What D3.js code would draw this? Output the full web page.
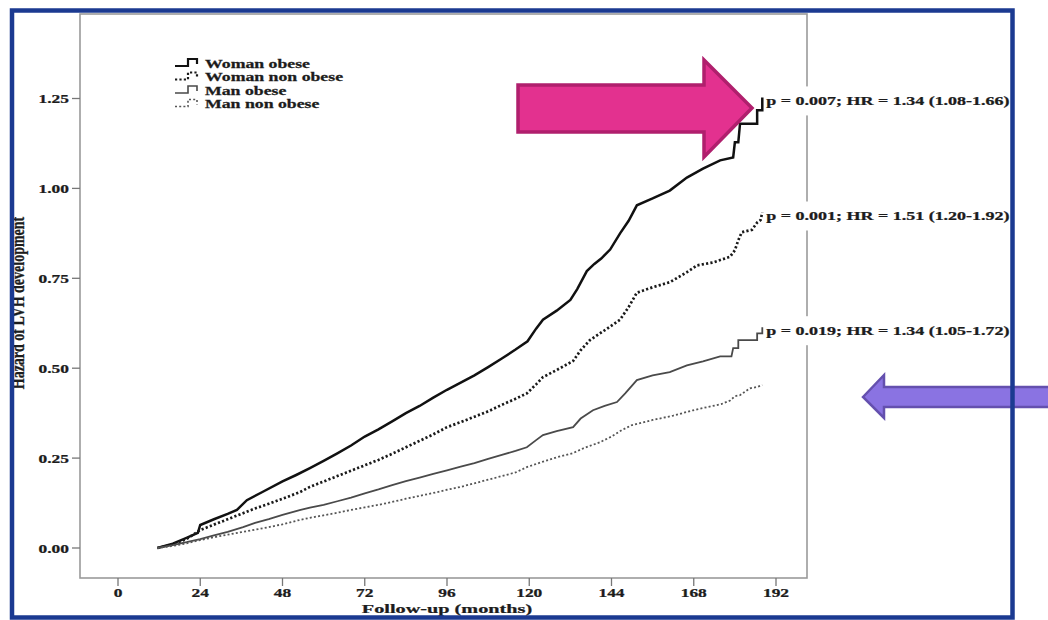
<!DOCTYPE html>
<html>
<head>
<meta charset="utf-8">
<script src="https://cdn.jsdelivr.net/npm/d3@7/dist/d3.min.js"></script>
<style>
  html, body { margin: 0; padding: 0; background: #ffffff; }
  svg { display: block; }
  text { font-family: "Liberation Serif", "Times New Roman", serif; font-weight: bold; fill: #1c1c1c; stroke: #1c1c1c; stroke-width: 0.25px; }
</style>
</head>
<body>
<svg id="chart" width="1048" height="620"></svg>
<script>
// ---------------- DATA ----------------
const xTicks = [0, 24, 48, 72, 96, 120, 144, 168, 192];
const yTicks = [0, 0.25, 0.5, 0.75, 1.0, 1.25];
const yTickLabels = ["0.00", "0.25", "0.50", "0.75", "1.00", "1.25"];
const xTitle = "Follow-up (months)";
const yTitle = "Hazard of LVH development";
const seriesNames = ["Woman obese", "Woman non obese", "Man obese", "Man non obese"];
const annotations = [
  "p = 0.007; HR = 1.34 (1.08-1.66)",
  "p = 0.001; HR = 1.51 (1.20-1.92)",
  "p = 0.019; HR = 1.34 (1.05-1.72)"
];

// [month, cumulative hazard]
const womanObese = [
  [11.5,0],[16,0.012],[20,0.028],[23.3,0.042],[24,0.064],[28,0.08],[32,0.095],[34.7,0.106],[37.6,0.133],
  [42,0.155],[48,0.185],[52,0.203],[56,0.222],[60,0.242],[64,0.263],[68,0.285],[72,0.31],[76,0.33],
  [80,0.352],[84,0.375],[88,0.395],[92,0.418],[96,0.44],[100,0.46],[104,0.48],[108,0.503],[112,0.527],
  [116,0.552],[119.5,0.575],[122,0.61],[124,0.635],[128,0.66],[132,0.69],[134,0.72],[136.8,0.77],
  [139,0.79],[141,0.805],[143.6,0.83],[146.5,0.875],[149,0.91],[151.4,0.953],[156,0.972],[161,0.994],
  [166,1.03],[170.7,1.055],[175.7,1.078],[179.5,1.086],[180,1.128],[181,1.128],[181.5,1.18],
  [186.5,1.18],[186.5,1.217],[188,1.217],[188,1.253]
];
const womanNonObese = [
  [11.5,0],[16,0.01],[20,0.025],[24,0.05],[28,0.065],[32,0.08],[36,0.095],[40,0.11],[44,0.123],
  [48,0.137],[53,0.155],[56,0.17],[60,0.185],[64,0.2],[68,0.215],[72,0.23],[76,0.245],[80,0.262],
  [84,0.28],[88,0.298],[92,0.316],[96,0.336],[100,0.35],[104,0.365],[108,0.38],[112,0.398],
  [116,0.415],[119.3,0.43],[122,0.455],[124,0.475],[128,0.495],[132.8,0.52],[135,0.55],[137.7,0.578],
  [142.7,0.61],[146.5,0.635],[149,0.67],[151.4,0.71],[156,0.725],[161,0.739],[166,0.767],[169,0.786],
  [173.6,0.794],[178.6,0.81],[180,0.828],[181,0.856],[182,0.878],[185,0.885],[186.5,0.905],
  [187.5,0.912],[188,0.933]
];
const manObese = [
  [11.5,0],[16,0.008],[20,0.016],[24,0.025],[28,0.035],[32,0.045],[36.5,0.058],[40,0.07],[44,0.08],
  [48,0.092],[53,0.105],[56,0.112],[60,0.12],[64,0.13],[68,0.14],[72,0.152],[76,0.163],[80,0.175],
  [84,0.186],[88,0.196],[92,0.206],[96,0.216],[100,0.226],[104,0.236],[108,0.248],[112,0.259],
  [116,0.27],[119.3,0.28],[122,0.3],[124,0.314],[128,0.325],[132.8,0.336],[135,0.36],[138.6,0.383],
  [142,0.395],[145.6,0.406],[148,0.43],[151.4,0.467],[156,0.48],[161,0.489],[166,0.508],[170.7,0.519],
  [175.7,0.533],[179,0.533],[179.5,0.556],[181,0.556],[181,0.578],[186.5,0.578],[186.5,0.597],
  [188,0.597],[188,0.614]
];
const manNonObese = [
  [11.5,0],[16,0.006],[20,0.013],[24,0.022],[28,0.03],[32,0.037],[36,0.044],[40,0.051],[44,0.058],
  [48,0.066],[53,0.078],[56,0.084],[60,0.091],[64,0.098],[68,0.106],[72,0.113],[76,0.12],[80,0.128],
  [84,0.137],[88,0.145],[92,0.153],[96,0.162],[100,0.17],[104,0.18],[108,0.19],[112,0.2],[116,0.21],
  [119.3,0.225],[124,0.24],[128,0.252],[132.8,0.264],[136,0.278],[140.6,0.294],[144,0.31],[147,0.328],
  [150,0.342],[156,0.356],[162,0.368],[167.8,0.383],[172,0.392],[176,0.4],[178.6,0.41],[180,0.422],
  [181.5,0.425],[184.4,0.444],[186.5,0.448],[188,0.453]
];

// ---------------- LAYOUT ----------------
const svg = d3.select("#chart");
const plot = { left: 80, top: 14, right: 807, bottom: 578 };
const x = d3.scaleLinear().domain([0, 192]).range([118, 776]);
const y = d3.scaleLinear().domain([0, 1.25]).range([548, 98.5]);

function stretchedText(g, str, px, py, size, anchor, sx) {
  return g.append("text")
    .attr("transform", `translate(${px},${py}) scale(${sx || 1.45},1)`)
    .attr("text-anchor", anchor || "start")
    .attr("dominant-baseline", "central")
    .style("font-size", size + "px")
    .text(str);
}

// plot frame
svg.append("rect")
  .attr("x", plot.left).attr("y", plot.top)
  .attr("width", plot.right - plot.left).attr("height", plot.bottom - plot.top)
  .attr("fill", "#fff").attr("stroke", "#9a9a9a").attr("stroke-width", 1.6);

// y axis ticks
const gy = svg.append("g");
yTicks.forEach((t, i) => {
  gy.append("line").attr("x1", plot.left - 8).attr("x2", plot.left)
    .attr("y1", y(t)).attr("y2", y(t)).attr("stroke", "#777").attr("stroke-width", 1.3);
  stretchedText(gy, yTickLabels[i], plot.left - 11, y(t) + 0.5, 12, "end", 1.45);
});
// x axis ticks
const gx = svg.append("g");
xTicks.forEach(t => {
  gx.append("line").attr("x1", x(t)).attr("x2", x(t))
    .attr("y1", plot.bottom).attr("y2", plot.bottom + 8).attr("stroke", "#777").attr("stroke-width", 1.3);
  stretchedText(gx, String(t), x(t), 593, 12, "middle", 1.45);
});
// axis titles
stretchedText(svg, xTitle, 447, 609, 13.5, "middle", 1.5);
svg.append("text")
  .attr("transform", `translate(18,303) rotate(-90) scale(1,1.35)`)
  .attr("text-anchor", "middle").attr("dominant-baseline", "central")
  .style("font-size", "14px").text(yTitle);

// curves
const line = d3.line().x(d => x(d[0])).y(d => y(d[1])).curve(d3.curveLinear);
const seriesData = [womanObese, womanNonObese, manObese, manNonObese];
const styles = [
  { stroke: "#111", width: 2.5, dash: null },
  { stroke: "#1a1a1a", width: 2.7, dash: "2.2,2.2" },
  { stroke: "#4a4a4a", width: 1.8, dash: null },
  { stroke: "#555", width: 1.8, dash: "2,2.2" }
];
seriesData.forEach((data, i) => {
  svg.append("path").datum(data)
    .attr("d", line)
    .attr("fill", "none")
    .attr("stroke", styles[i].stroke)
    .attr("stroke-width", styles[i].width)
    .attr("stroke-linejoin", "miter")
    .attr("stroke-dasharray", styles[i].dash);
});

// legend
const gl = svg.append("g");
seriesNames.forEach((name, i) => {
  const ly = 63 + i * 13.5;
  gl.append("path")
    .attr("d", `M175,${ly + 3} H188 V${ly - 4} H197 V${ly + 1}`)
    .attr("fill", "none")
    .attr("stroke", styles[i].stroke)
    .attr("stroke-width", i < 2 ? 2.2 : 1.6)
    .attr("stroke-dasharray", styles[i].dash);
  stretchedText(gl, name, 205, ly + 0.5, 12, "start", 1.48);
});

// annotations (with white backing, which hides the frame line behind them)
const ga = svg.append("g");
[womanObese, womanNonObese, manObese].forEach((data, i) => {
  const last = data[data.length - 1];
  const ty = y(last[1]) + 3;
  ga.append("rect").attr("x", x(last[0]) + 2).attr("y", ty - 14)
    .attr("width", 250).attr("height", 29).attr("fill", "#fff");
  stretchedText(ga, annotations[i], x(last[0]) + 4, ty, 12, "start", 1.5);
});

// pink arrow (pointing right)
const pinkPts = [[518,85],[704,85],[704,60],[752,108],[704,157],[704,132],[518,132]];
svg.append("polygon")
  .attr("points", pinkPts.map(p => p.join(",")).join(" "))
  .attr("fill", "#e3318f").attr("stroke", "#b01f6d").attr("stroke-width", 3.5)
  .attr("stroke-linejoin", "miter");

// purple arrow (pointing left)
const purplePts = [[863,397],[884,375],[884,387],[1052,387],[1052,407],[884,407],[884,418]];
svg.append("polygon")
  .attr("points", purplePts.map(p => p.join(",")).join(" "))
  .attr("fill", "#8a73e2").attr("stroke", "#6450ae").attr("stroke-width", 2.5)
  .attr("stroke-linejoin", "miter");

// outer blue frame
svg.append("rect")
  .attr("x", 12).attr("y", 10.5).attr("width", 1000.5).attr("height", 607)
  .attr("fill", "none").attr("stroke", "#1b3a91").attr("stroke-width", 4.5);
</script>
</body>
</html>
